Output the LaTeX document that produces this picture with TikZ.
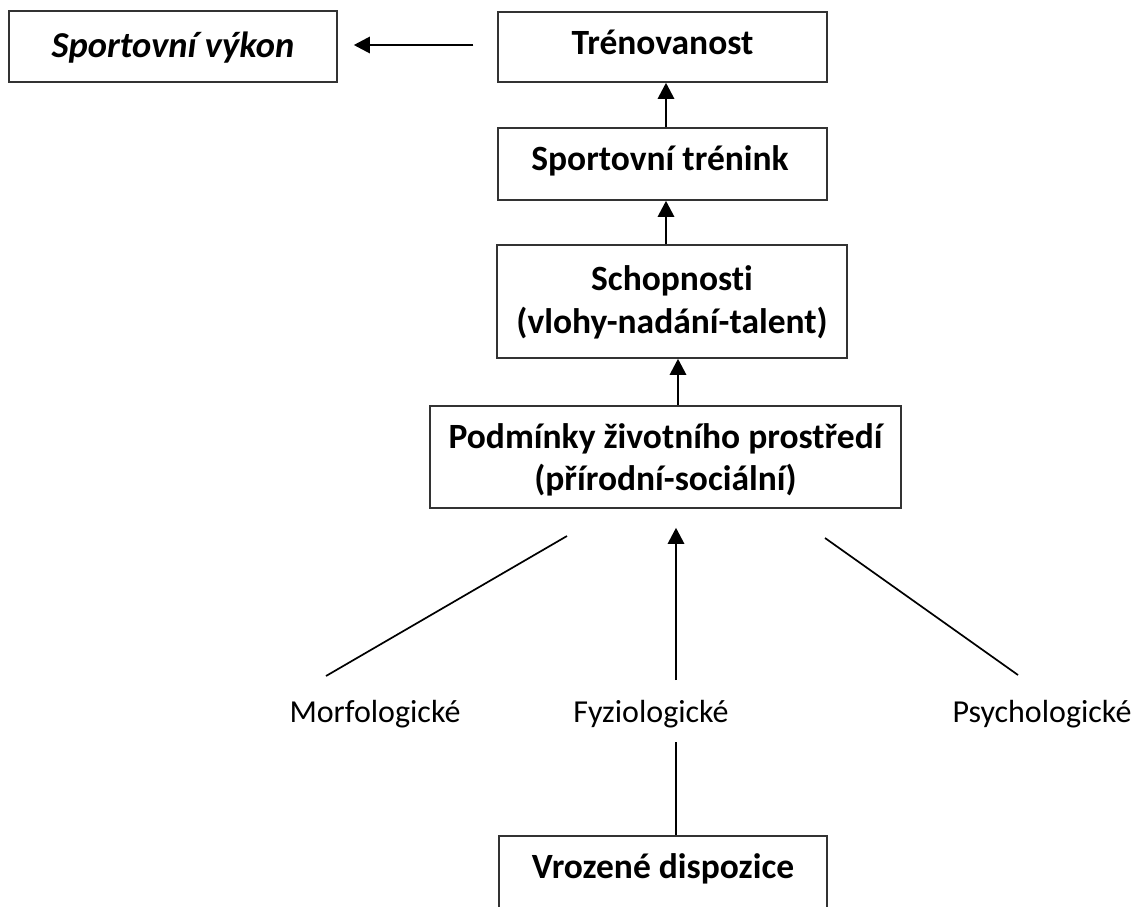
\documentclass[tikz,border=0pt]{standalone}
\usepackage{fontspec}
\setmainfont{Carlito}[Ligatures=NoCommon]
\usetikzlibrary{arrows.meta}
\begin{document}
\begin{tikzpicture}[x=1pt,y=-1pt,
  box/.style={draw=black!80, line width=1.5pt, inner sep=0pt},
  bt/.style={font=\fontsize{35.5}{42}\selectfont\bfseries, anchor=base, inner sep=0pt},
  bit/.style={font=\fontsize{36.5}{43}\selectfont\bfseries\itshape, anchor=base, inner sep=0pt},
  rt/.style={font=\fontsize{32}{38}\selectfont, anchor=base, inner sep=0pt},
  arr/.style={line width=2.8pt, -{Triangle[length=16pt,width=16pt]}},
  ln/.style={line width=1.7pt}]
\useasboundingbox (0,0) rectangle (1136,906);
\clip (0,0) rectangle (1136,906);
% boxes
\node[box, minimum width=328pt, minimum height=71pt] (vykon) at (173,46.5) {};
\node[box, minimum width=329pt, minimum height=70pt] (tren) at (662.5,47) {};
\node[box, minimum width=329pt, minimum height=72pt] (trenink) at (662.5,164) {};
\node[box, minimum width=350pt, minimum height=113pt] (schop) at (672,301.5) {};
\node[box, minimum width=471pt, minimum height=102pt] (podm) at (665.5,457) {};
\node[box, minimum width=328pt, minimum height=104pt] (vroz) at (663,888) {};
% texts
\node[bit] (tvykon) at (173,57) {Sportovní výkon};
\node[bt] (ttren) at (662.5,54) {Trénovanost};
\node[bt] (ttrenink) at (660,170) {Sportovní trénink};
\node[bt] (tschop1) at (672,290) {Schopnosti};
\node[bt] (tschop2) at (672,333) {(vlohy-nadání-talent)};
\node[bt] (tpodm1) at (665.5,448) {Podmínky životního prostředí};
\node[bt] (tpodm2) at (665.5,490) {(přírodní-sociální)};
\node[bt] (tvroz) at (663,878) {Vrozené dispozice};
\node[rt] (morf) at (375,722) {Morfologické};
\node[rt] (fyz) at (651,722) {Fyziologické};
\node[rt] (psych) at (1042,722) {Psychologické};
% connectors
\draw[arr] ([xshift=-24pt]tren.west |- 0,45) -- ([xshift=16pt]vykon.east |- 0,45);
\draw[arr] (trenink.north -| 666,0) -- (tren.south -| 666,0);
\draw[arr] (schop.north -| 666,0) -- (trenink.south -| 666,0);
\draw[arr] (podm.north -| 678,0) -- (schop.south -| 678,0);
\coordinate (fa) at (676,680);
\draw[arr, shorten >=19pt] (fa) -- (fa |- podm.south);
\coordinate (m1) at (326,676);
\coordinate (m2) at (567,536);
\draw[ln] (m1) -- (m2);
\coordinate (p1) at (1018,675);
\coordinate (p2) at (825,538);
\draw[ln] (p1) -- (p2);
\coordinate (fv) at (676,742);
\draw[ln] (fv) -- (fv |- vroz.north);
\end{tikzpicture}
\end{document}
